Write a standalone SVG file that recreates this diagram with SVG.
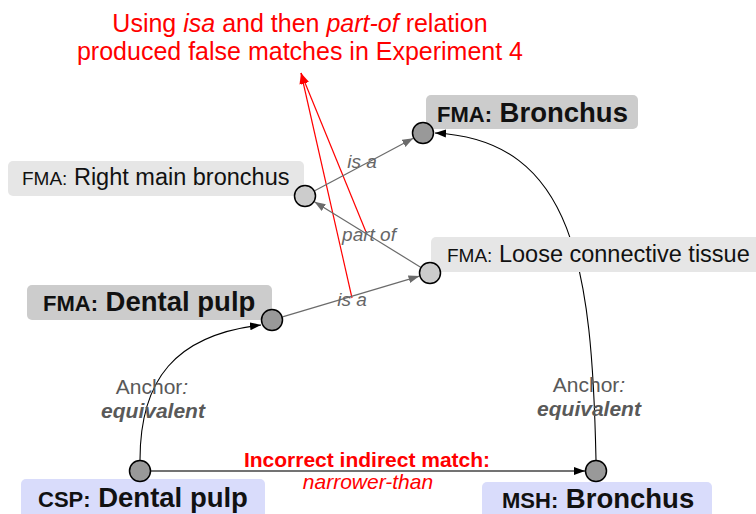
<svg xmlns="http://www.w3.org/2000/svg" width="756" height="514" viewBox="0 0 756 514">
  <style>
    text { font-family: "Liberation Sans", Arial, sans-serif; }
    .dot { stroke: #000; stroke-width: 1.5; }
    .dark { fill: #999999; }
    .light { fill: #cccccc; }
    .box-dark { fill: #cccccc; }
    .box-light { fill: #e6e6e6; }
    .box-blue { fill: #d9dcfb; }
    .lbl { fill: #111; }
    .pre { font-size: 19px; }
    .name { font-size: 23.5px; }
    .bpre { font-size: 22px; font-weight: bold; }
    .bname { font-size: 27.5px; font-weight: bold; }
    .rel { stroke: #6b6b6b; stroke-width: 1.2; fill: none; marker-end: url(#grayArrow); }
    .anchor { stroke: #000; stroke-width: 1.1; fill: none; marker-end: url(#blackArrow); }
    .rel-lbl { fill: #666; font-size: 19px; font-style: italic; text-anchor: middle; }
    .anc-lbl { fill: #595959; font-size: 21px; text-anchor: middle; }
    .red { fill: #ff0000; }
    .note-line { stroke: #ff0000; stroke-width: 1.2; fill: none; marker-end: url(#redArrow); }
  </style>
  <defs>
    <marker id="grayArrow" markerUnits="userSpaceOnUse" markerWidth="12" markerHeight="10" refX="11" refY="5" orient="auto">
      <path d="M0,1 L11,5 L0,9 Z" fill="#6b6b6b"/>
    </marker>
    <marker id="blackArrow" markerUnits="userSpaceOnUse" markerWidth="12" markerHeight="10" refX="11" refY="5" orient="auto">
      <path d="M0,1 L11,5 L0,9 Z" fill="#000"/>
    </marker>
    <marker id="redArrow" markerUnits="userSpaceOnUse" markerWidth="12" markerHeight="10" refX="11" refY="5" orient="auto">
      <path d="M0,1 L11,5 L0,9 Z" fill="#ff0000"/>
    </marker>
  </defs>

  <rect width="756" height="514" fill="#ffffff"/>

  <!-- annotation -->
  <g id="note">
    <text class="red" x="300" y="32" font-size="25" text-anchor="middle">Using <tspan font-style="italic">isa</tspan> and then <tspan font-style="italic">part-of</tspan> relation</text>
    <text class="red" x="300" y="60" font-size="25" text-anchor="middle">produced false matches in Experiment 4</text>
    <path class="note-line" d="M352,298 L301,73"/>
    <path class="note-line" d="M366,232 L301,73"/>
  </g>

  <!-- connectors -->
  <g id="connectors">
    <path class="rel" d="M314.7,190.8 L413.3,138.2"/>
    <path class="rel" d="M420.6,267.2 L314.4,201.8"/>
    <path class="rel" d="M282.5,316.9 L419.5,276.1"/>
    <path class="anchor" d="M140,460 C140,380 175,335 261,325"/>
    <path class="anchor" d="M596,460 C592,270 575,140 435,133"/>
    <path d="M151,471 L585,471" stroke="#444" stroke-width="1.4" fill="none" marker-end="url(#blackArrow)"/>
    <text class="rel-lbl" x="362" y="168">is a</text>
    <text class="rel-lbl" x="369" y="241">part of</text>
    <text class="rel-lbl" x="352" y="306">is a</text>
    <text class="anc-lbl" x="152" y="394">Anchor<tspan font-style="italic">:</tspan></text>
    <text class="anc-lbl" x="153" y="418" font-weight="bold" font-style="italic">equivalent</text>
    <text class="anc-lbl" x="589" y="392">Anchor<tspan font-style="italic">:</tspan></text>
    <text class="anc-lbl" x="589" y="416" font-weight="bold" font-style="italic">equivalent</text>
    <text class="red" x="367" y="467" font-size="21" font-weight="bold" text-anchor="middle">Incorrect indirect match:</text>
    <text class="red" x="368" y="489" font-size="21" font-style="italic" text-anchor="middle">narrower-than</text>
  </g>

  <!-- nodes -->
  <g id="fma-bronchus">
    <rect class="box-dark" x="426" y="95" width="212" height="34" rx="5"/>
    <text class="lbl" x="437" y="122"><tspan class="bpre">FMA:</tspan><tspan class="bname"> Bronchus</tspan></text>
    <circle class="dot dark" cx="423" cy="133" r="10.5"/>
  </g>

  <g id="fma-right-main-bronchus">
    <rect class="box-light" x="8" y="161" width="296" height="35" rx="5"/>
    <text class="lbl" x="22" y="185"><tspan class="pre">FMA:</tspan><tspan class="name"> Right main bronchus</tspan></text>
    <circle class="dot light" cx="305" cy="196" r="10.5"/>
  </g>

  <g id="fma-loose-connective-tissue">
    <rect class="box-light" x="431" y="237" width="340" height="35" rx="5"/>
    <text class="lbl" x="447" y="262"><tspan class="pre">FMA:</tspan><tspan class="name"> Loose connective tissue</tspan></text>
    <circle class="dot light" cx="430" cy="273" r="10.5"/>
  </g>

  <g id="fma-dental-pulp">
    <rect class="box-dark" x="27" y="285" width="245" height="35" rx="5"/>
    <text class="lbl" x="43" y="311"><tspan class="bpre">FMA:</tspan><tspan class="bname"> Dental pulp</tspan></text>
    <circle class="dot dark" cx="272" cy="320" r="10.5"/>
  </g>

  <g id="csp-dental-pulp">
    <rect class="box-blue" x="21" y="479" width="244" height="45" rx="5"/>
    <text class="lbl" x="38" y="507"><tspan class="bpre">CSP:</tspan><tspan class="bname"> Dental pulp</tspan></text>
    <circle class="dot dark" cx="140" cy="471" r="10.5"/>
  </g>

  <g id="msh-bronchus">
    <rect class="box-blue" x="482" y="482" width="230" height="42" rx="5"/>
    <text class="lbl" x="502" y="508"><tspan class="bpre">MSH:</tspan><tspan class="bname"> Bronchus</tspan></text>
    <circle class="dot dark" cx="596" cy="471" r="10.5"/>
  </g>
</svg>
